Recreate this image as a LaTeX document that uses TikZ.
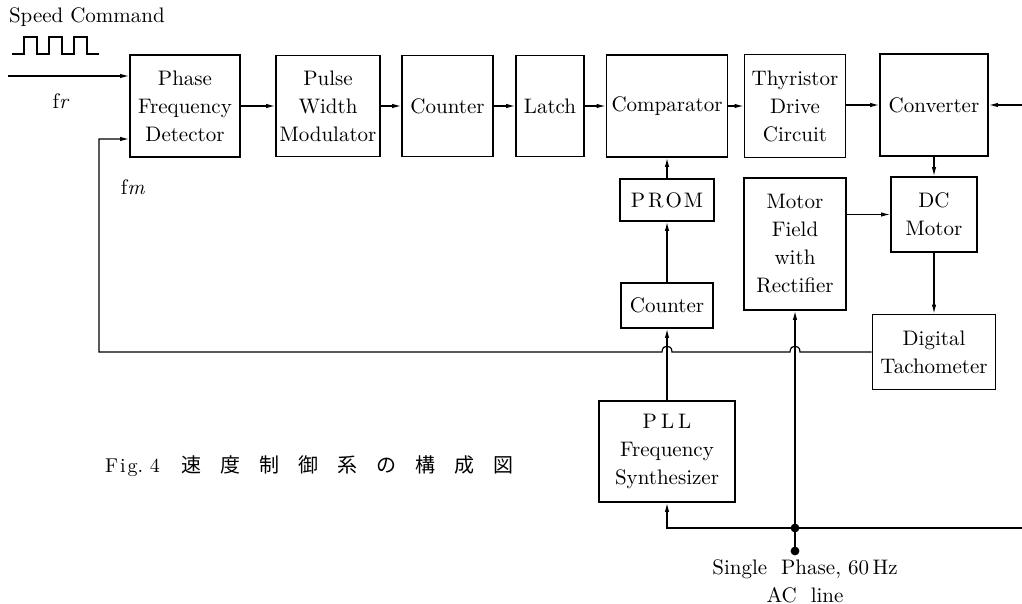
\documentclass[tikz,border=0pt]{standalone}
\usepackage{fontspec}
\newfontfamily\jpfont{Noto Sans CJK JP}
\usetikzlibrary{arrows.meta, positioning, calc}

\begin{document}
\begin{tikzpicture}[x=0.5pt, y=-0.5pt, font=\fontsize{10.5}{14}\selectfont,
    blk/.style={draw, thick, align=center, inner sep=0pt},
    wire/.style={semithick},
    arr/.style={semithick, -{Latex[length=4.5pt,width=2.2pt]}}]
  \useasboundingbox (0,0) rectangle (1022,604);

  % main chain
  \node[blk, minimum width=55pt, minimum height=51pt] (pfd) at (185,106) {Phase\\Frequency\\Detector};
  \node[blk, minimum width=52pt, minimum height=50.5pt] (pwm) at (328,106) {Pulse\\Width\\Modulator};
  \node[blk, minimum width=45.5pt, minimum height=50.5pt] (cnt) at (447.5,106) {Counter};
  \node[blk, minimum width=34pt, minimum height=50.5pt] (latch) at (550,106) {Latch};
  \node[blk, minimum width=60.5pt, minimum height=51pt] (comp) at (667,106) {Comparator};
  \node[blk, minimum width=50.5pt, minimum height=51.5pt] (thy) at (795,106) {Thyristor\\Drive\\Circuit};
  \node[blk, minimum width=54pt, minimum height=51pt] (conv) at (934,105) {Converter};

  % lower blocks
  \node[blk, minimum width=47pt, minimum height=21pt] (prom) at (667,200) {P\kern1.5pt R\kern1pt O\kern1pt M};
  \node[blk, minimum width=46pt, minimum height=22.5pt] (cnt2) at (667,305.5) {Counter};
  \node[blk, minimum width=51pt, minimum height=66pt] (field) at (795,244) {Motor\\Field\\with\\Rectifier};
  \node[blk, minimum width=43pt, minimum height=37.5pt] (dcm) at (934,214.5) {DC\\Motor};
  \node[blk, minimum width=61.5pt, minimum height=37.5pt] (tach) at (934,352) {Digital\\Tachometer};
  \node[blk, minimum width=68pt, minimum height=50.5pt] (pll) at (667,451.5) {P\kern2pt L\kern2pt L\\Frequency\\Synthesizer};

  % speed command
  \node[anchor=west, font=\fontsize{10.5}{12}\selectfont] (cmd) at (2,17) {Speed Command};
  \draw[wire] (12,54) -- ++(12,0)
    foreach \i in {1,2,3} { -- ++(0,-17) -- ++(13,0) -- ++(0,17) -- ++(12,0) };
  \coordinate (cmdin) at (8,76);
  \draw[arr] (cmdin) -- (cmdin -| pfd.west);
  \node (fr) at (61,101) {f\textit{r}};
  \node (fm) at (133,187) {f\textit{m}};

  \foreach \a/\b in {pfd/pwm, pwm/cnt, cnt/latch, latch/comp, comp/thy}
    \draw[arr] (\a.east) -- (\b.west);
  \draw[arr] (thy.east |- conv.west) -- (conv.west);
  \coordinate (vin) at (1022,105);
  \draw[arr] (vin) -- (conv.east);

  \draw[arr] (prom.north) -- (comp.south);
  \draw[arr] (cnt2.north) -- (prom.south);
  \draw[arr] (pll.north) -- (cnt2.south);
  \draw[arr] (conv.south) -- (dcm.north);
  \draw[arr] (dcm.south) -- (tach.north);
  \draw[arr] (field.east |- dcm.west) -- (dcm.west);

  % feedback with hops
  \coordinate (hopA) at (field.south |- tach.west);
  \coordinate (hopB) at (cnt2.south |- tach.west);
  \coordinate (fbc) at (99,352);
  \coordinate (fbin) at (99,139);
  \draw[arr] (tach.west) -- ([xshift=2.5pt]hopA)
    .. controls ([xshift=2.5pt,yshift=4pt]hopA) and ([xshift=-2.5pt,yshift=4pt]hopA) .. ([xshift=-2.5pt]hopA)
    -- ([xshift=2.5pt]hopB)
    .. controls ([xshift=2.5pt,yshift=4pt]hopB) and ([xshift=-2.5pt,yshift=4pt]hopB) .. ([xshift=-2.5pt]hopB)
    -- (fbc) -- (fbin) -- (fbin -| pfd.west);

  % AC line
  \coordinate (acj) at (795,528);
  \coordinate (acend) at (1022,528);
  \coordinate (acsrc) at (795,551);
  \draw[wire] (acend) -- (acj);
  \draw[arr] (acj) -- (acj -| pll.south) -- (pll.south);
  \draw[arr] (acj) -- (field.south);
  \draw[wire] (acsrc) -- (acj);
  \fill (acj) circle[radius=2.2pt];
  \fill (acsrc) circle[radius=2.2pt];
  \node[below=1pt of acsrc, xshift=5pt, align=center] (aclbl) {Single\ \ Phase,\ 60\,Hz\\AC\ \ line};

  % caption
  \node[anchor=west, font=\fontsize{10}{12}\selectfont] (cap) at (98,466) {F\kern1pt i\kern1pt g.\ 4\hspace{11pt}\jpfont 速\hspace{9.5pt}度\hspace{9.5pt}制\hspace{9.5pt}御\hspace{9.5pt}系\hspace{9.5pt}の\hspace{9.5pt}構\hspace{9.5pt}成\hspace{9.5pt}図};
\end{tikzpicture}
\end{document}
